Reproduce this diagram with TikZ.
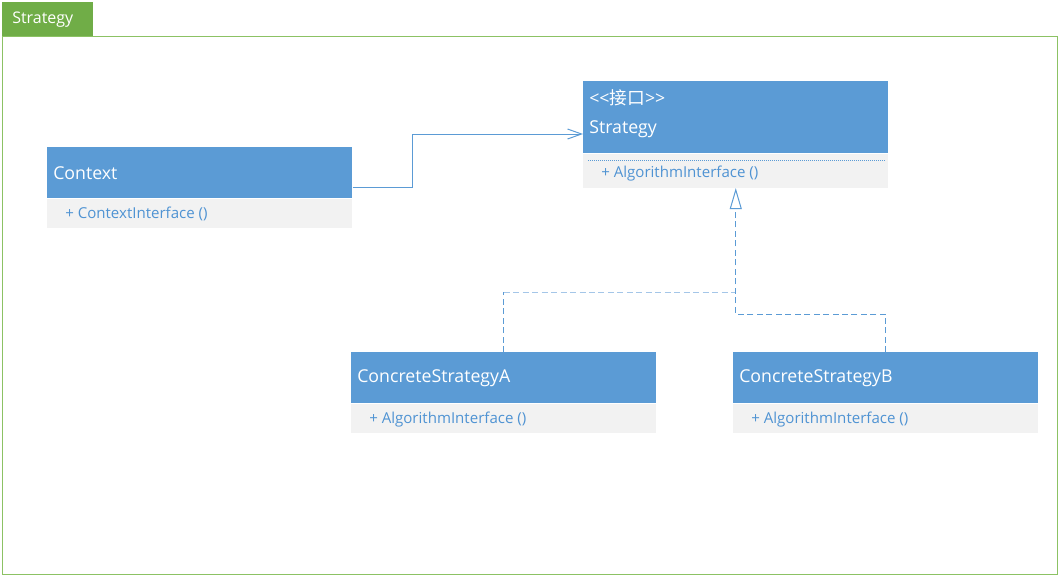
\documentclass[tikz,border=0pt]{standalone}
\usepackage{fontspec}
\setmainfont{Open Sans}
\newfontfamily\cjk{Noto Sans CJK SC}
\usetikzlibrary{arrows.meta,calc}
\definecolor{hdr}{HTML}{5B9BD5}
\definecolor{bodyc}{HTML}{F2F2F2}
\definecolor{tabg}{HTML}{70AD47}
\definecolor{frameg}{HTML}{8CC264}
\definecolor{lightb}{HTML}{A4C6E8}
\definecolor{memb}{HTML}{4F93D3}
\tikzset{
  hdrbox/.style={draw=none, fill=hdr, anchor=north west, minimum width=228.75pt, inner sep=0pt},
  bodybox/.style={draw=none, fill=bodyc, anchor=north west, minimum width=228.75pt, inner sep=0pt},
  hdrtext/.style={anchor=west, inner sep=0pt, text=white, font=\fontsize{13.3}{15}\selectfont},
  memtext/.style={anchor=west, inner sep=0pt, text=memb, font=\fontsize{11.3}{13}\selectfont},
  conn/.style={draw=hdr, line width=0.75pt},
  dashconn/.style={conn, dash pattern=on 4.5pt off 2.6pt},
  assoc/.style={conn, -{Straight Barb[length=10.5pt, width=7.5pt, line width=0.75pt]}},
  realiz/.style={dashconn, -{Triangle[open, length=15.75pt, width=9pt, line width=0.75pt, fill=white]}}
}
\begin{document}
\begin{tikzpicture}[x=0.75pt, y=-0.75pt]
\useasboundingbox (0,0) rectangle (1059,576);
% frame and tab
\draw[frameg, line width=0.75pt] (2,36) rectangle (1057,574);
\node[fill=tabg, anchor=north west, minimum width=68.25pt, minimum height=25.5pt, inner sep=0pt] (tab) at (2,2) {};
\node[anchor=west, inner sep=0pt, text=white, font=\fontsize{12}{14}\selectfont] (tabt) at ([xshift=7.5pt]tab.west) {Strategy};
% Context
\node[hdrbox, minimum height=38.25pt] (ctxh) at (47,147) {};
\node[bodybox, minimum height=21.75pt] (ctxb) at (ctxh.south west) {};
\node[hdrtext] (ctxt) at ([xshift=4.5pt]ctxh.west) {Context};
\node[memtext] (ctxm) at ($(ctxb.west)+(18,1)$) {+ ContextInterface ()};
% Strategy interface
\node[hdrbox, minimum height=54pt] (sth) at (583,81) {};
\node[bodybox, minimum height=25.5pt] (stb) at (sth.south west) {};
\node[hdrtext] (stster) at ($(sth.north west)+(6,17)$) {{<}{<}{\cjk 接口}{>}{>}};
\node[hdrtext] (stname) at ($(sth.north west)+(6,48)$) {Strategy};
\draw[hdr, line width=0.75pt, dash pattern=on 0.75pt off 0.75pt] ($(stb.north west)+(5,7)$) -- ($(stb.north east)+(-4,7)$);
\node[memtext] (stm) at ($(stb.west)+(18,3)$) {+ AlgorithmInterface ()};
% ConcreteStrategyA
\node[hdrbox, minimum height=38.25pt] (cah) at (351,352) {};
\node[bodybox, minimum height=21.75pt] (cab) at (cah.south west) {};
\node[hdrtext] (cat) at ([xshift=4.5pt]cah.west) {ConcreteStrategyA};
\node[memtext] (cam) at ($(cab.west)+(18,1)$) {+ AlgorithmInterface ()};
% ConcreteStrategyB
\node[hdrbox, minimum height=38.25pt] (cbh) at (733,352) {};
\node[bodybox, minimum height=21.75pt] (cbb) at (cbh.south west) {};
\node[hdrtext] (cbt) at ([xshift=4.5pt]cbh.west) {ConcreteStrategyB};
\node[memtext] (cbm) at ($(cbb.west)+(18,1)$) {+ AlgorithmInterface ()};
% association
\draw[assoc] ($(ctxh.south east)+(0,-11)$) -- ++(60,0) |- ($(sth.north west)+(0,53)$);
% realizations
\draw[dashconn] (cah.north) -- ++(0,-60) coordinate (ca1);
\draw[dashconn, draw=lightb] (ca1) -- (ca1 -| stb.south);
\draw[realiz] (cbh.north) |- ($(stb.south)+(0,126)$) -- (stb.south);
\end{tikzpicture}
\end{document}
